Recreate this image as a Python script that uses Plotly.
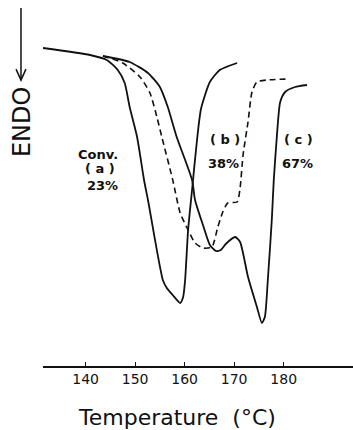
import plotly.graph_objects as go

# Curve (a): conventional, 23 %
temp_a = [131.4, 140.9, 144.3, 146.5, 147.9, 148.9, 150.4, 151.8, 152.6, 155.6, 156.4, 157.6,
          159.1, 159.7, 160.1, 160.7, 161.5, 162.5, 163.3, 165.1, 167.1, 170.6]
endo_a = [318, 311, 306, 296, 283, 259, 229, 186, 166, 86, 78, 71,
          63, 69, 86, 136, 176, 226, 257, 284, 296, 303]

# Curve (b): 38 % (dashed)
temp_b = [143.5, 147.5, 151.0, 153.0, 154.4, 155.4, 157.6, 159.1, 160.7, 162.1, 163.7, 165.5,
          166.7, 167.7, 168.7, 170.6, 171.2, 171.8, 172.8, 173.6, 174.6, 176.6, 180.9]
endo_b = [310, 303, 289, 273, 249, 229, 186, 153, 136, 123, 118, 119,
          139, 154, 163, 164, 178, 211, 244, 274, 284, 286, 287]

# Curve (c): 67 %
temp_c = [143.5, 148.9, 152.6, 155.0, 156.6, 158.4, 161.5, 162.1, 163.7, 165.1, 166.3, 167.3,
          168.3, 170.2, 171.2, 172.8, 174.6, 175.6, 176.2, 176.8, 177.6, 178.0, 178.6, 179.3,
          180.3, 182.3, 184.7]
endo_c = [310, 304, 293, 279, 259, 229, 186, 166, 141, 121, 115, 116,
          122, 129, 124, 89, 59, 43, 49, 86, 146, 186, 228, 264,
          274, 279, 281]

tick_vals = [140, 150, 160, 170, 180]
tick_text = ["140", "150", "160", "170", "180"]

labels = [
    ("Conv.", 142.5, 212),
    ("( a )", 142.9, 198),
    ("23%", 143.5, 181),
    ("( b )", 168.1, 227),
    ("38%", 167.9, 203),
    ("( c )", 182.9, 227),
    ("67%", 182.7, 203),
]

fig = go.Figure()
line_col = "#111111"
fig.add_trace(go.Scatter(x=temp_a, y=endo_a, mode="lines", hoverinfo="skip",
                         line=dict(color=line_col, width=1.8, shape="spline", smoothing=0.6)))
fig.add_trace(go.Scatter(x=temp_b, y=endo_b, mode="lines", hoverinfo="skip",
                         line=dict(color=line_col, width=1.6, dash="6px,4px", shape="spline", smoothing=0.6)))
fig.add_trace(go.Scatter(x=temp_c, y=endo_c, mode="lines", hoverinfo="skip",
                         line=dict(color=line_col, width=1.8, shape="spline", smoothing=0.6)))

for txt, x, y in labels:
    fig.add_annotation(x=x, y=y, xref="x", yref="y", text=txt, showarrow=False,
                       font=dict(family="DejaVu Sans", size=13, color="#111111", weight="bold"))

# Axis title
fig.add_annotation(x=0.432, y=-0.142, xref="paper", yref="paper", text="Temperature  (°C)",
                   showarrow=False, xanchor="center", yanchor="middle",
                   font=dict(family="DejaVu Sans", size=22, color="#111111"))
# ENDO label
fig.add_annotation(x=-0.068, y=0.669, xref="paper", yref="paper", text="ENDO",
                   showarrow=False, textangle=-90, xanchor="center", yanchor="middle",
                   font=dict(family="DejaVu Sans", size=24, color="#111111"))

# ENDO arrow
ax_x = -0.071
fig.add_shape(type="line", xref="paper", yref="paper", x0=ax_x, x1=ax_x, y0=0.978, y1=0.781,
              line=dict(color="#111111", width=1.5))
fig.add_shape(type="path", xref="paper", yref="paper",
              path=f"M {ax_x-0.016},0.811 L {ax_x},0.781 L {ax_x+0.016},0.811",
              line=dict(color="#111111", width=1.5))

fig.update_layout(
    width=353, height=430,
    margin=dict(l=43, r=0, t=0, b=64),
    paper_bgcolor="white", plot_bgcolor="white",
    showlegend=False,
    hovermode=False,
    xaxis=dict(range=[131.4, 194], tickvals=tick_vals, ticktext=tick_text,
               showline=True, linecolor="#111111", linewidth=1.5,
               ticks="inside", ticklen=4, tickwidth=1.2, tickcolor="#111111",
               showgrid=False, zeroline=False, fixedrange=True,
               tickfont=dict(family="DejaVu Sans", size=14, color="#111111")),
    yaxis=dict(range=[0, 366], visible=False, showgrid=False, zeroline=False, fixedrange=True),
)

fig.write_html("out.html", config={"displayModeBar": False, "staticPlot": True},
               post_script="document.body.style.margin='0';document.body.style.overflow='hidden';")
